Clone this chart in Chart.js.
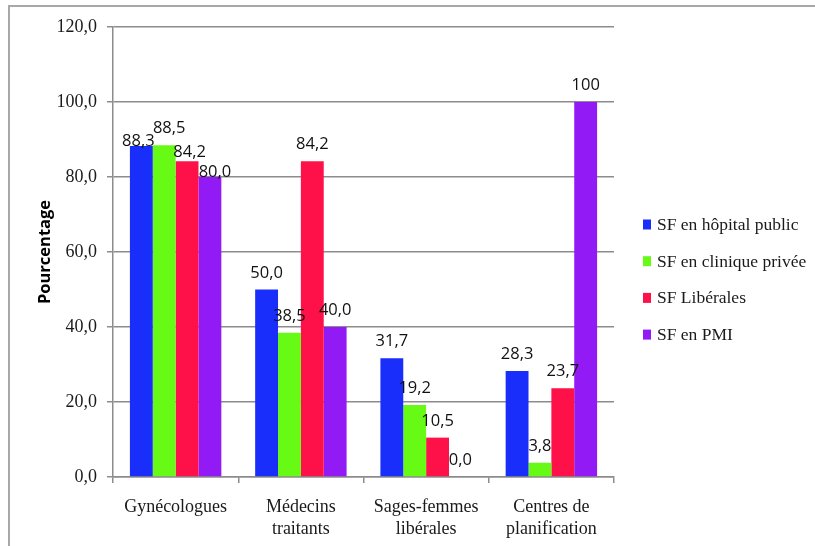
<!DOCTYPE html>
<html lang="fr">
<head>
<meta charset="utf-8">
<title>Pourcentage par type de professionnel</title>
<script src="https://cdn.jsdelivr.net/npm/chart.js@4/dist/chart.umd.min.js"></script>
<style>
  html, body { margin: 0; padding: 0; background: #fff; overflow: hidden; }
  #wrap { position: relative; width: 815px; height: 546px; }
  /* cadre gris autour du graphique (haut et gauche seulement visibles) */
  #frame { position: absolute; left: 8px; top: 5px; width: 900px; height: 600px;
           border-top: 2px solid #a8a8a8; border-left: 2px solid #a8a8a8; }
  #mycanvas { position: absolute; left: 0; top: 0; }
</style>
</head>
<body>
<div id="wrap">
  <div id="frame"></div>
  <canvas id="mycanvas" width="815" height="546"></canvas>
</div>
<script>
// categories on the x axis (multi-line labels)
var categories = [
  'Gynécologues',
  ['Médecins', 'traitants'],
  ['Sages-femmes', 'libérales'],
  ['Centres de', 'planification']
];

// one array per series, in %
var seriesNames = ['SF en hôpital public', 'SF en clinique privée', 'SF Libérales', 'SF en PMI'];
var hopitalPublic   = [88.3, 50.0, 31.7, 28.3];
var cliniquePrivee  = [88.5, 38.5, 19.2, 3.8];
var liberales       = [84.2, 84.2, 10.5, 23.7];
var pmi             = [80.0, 40.0, 0.0, 100];

var yTicks = [0, 20, 40, 60, 80, 100, 120];

var colors = ['#1a2efb', '#66fa14', '#fe1048', '#921bf5'];

var SERIF = '"Liberation Serif", "Times New Roman", serif';

function fr(v) {
  // 100 was shown without decimal in the original table
  if (v === 100) return '100';
  return v.toFixed(1).replace('.', ',');
}

// small manual nudges for the crowded first group (dataset index -> [dx, dy])
var labelNudge = {
  '0-0': [-3, 12],
  '1-0': [5, 0],
  '2-0': [2.5, 8],
  '3-0': [5, 12]
};

var valueLabels = {
  id: 'valueLabels',
  afterDatasetsDraw: function(chart) {
    var ctx = chart.ctx;
    ctx.save();
    ctx.font = '16.5px "Open Sans", sans-serif';
    ctx.fillStyle = '#111';
    ctx.textAlign = 'center';
    ctx.textBaseline = 'alphabetic';
    chart.data.datasets.forEach(function(ds, di) {
      var meta = chart.getDatasetMeta(di);
      meta.data.forEach(function(bar, i) {
        var n = labelNudge[di + '-' + i] || [0, 0];
        ctx.fillText(fr(ds.data[i]), bar.x + n[0], bar.y - 12 + n[1]);
      });
    });
    ctx.restore();
  }
};

// legend drawn on the right, one line per dataset
var sideLegend = {
  id: 'sideLegend',
  afterDraw: function(chart) {
    var ctx = chart.ctx;
    ctx.save();
    ctx.font = '17.5px ' + SERIF;
    ctx.textAlign = 'left';
    ctx.textBaseline = 'middle';
    chart.data.datasets.forEach(function(ds, i) {
      var cy = 224.5 + i * 36.7;
      ctx.fillStyle = ds.backgroundColor;
      ctx.fillRect(643, cy - 5, 8, 10);
      ctx.fillStyle = '#1a1a1a';
      ctx.fillText(ds.label, 657, cy + 1);
    });
    ctx.restore();
  }
};

var allSeries = [hopitalPublic, cliniquePrivee, liberales, pmi];
var datasets = allSeries.map(function(values, i) {
  return {
    label: seriesNames[i],
    data: values,
    backgroundColor: colors[i],
    borderWidth: 0,
    categoryPercentage: 0.73,
    barPercentage: 1.0
  };
});

var gridGray = '#8c8c8c';

var ctx = document.getElementById('mycanvas');
var barGraph = new Chart(ctx, {
  type: 'bar',
  data: { labels: categories, datasets: datasets },
  options: {
    responsive: false,
    animation: false,
    devicePixelRatio: 1,
    layout: { padding: { top: 27, right: 201, bottom: 0, left: 0 } },
    plugins: {
      legend: { display: false },
      tooltip: { enabled: false }
    },
    scales: {
      x: {
        grid: {
          offset: true,
          drawOnChartArea: false,
          drawTicks: true,
          tickLength: 6,
          color: gridGray,
          lineWidth: 1.5
        },
        border: { color: gridGray, width: 1.5 },
        ticks: {
          color: '#1a1a1a',
          padding: 13,
          maxRotation: 0,
          font: { family: SERIF, size: 18, lineHeight: 1.22 }
        },
        afterFit: function(scale) { scale.height = 69; }
      },
      y: {
        min: 0,
        max: 120,
        afterBuildTicks: function(scale) {
          scale.ticks = yTicks.map(function(v) { return { value: v }; });
        },
        grid: {
          color: gridGray,
          lineWidth: 1.5,
          drawTicks: true,
          tickLength: 6
        },
        border: { color: gridGray, width: 1.5 },
        ticks: {
          color: '#1a1a1a',
          padding: 10,
          font: { family: SERIF, size: 18 },
          callback: function(v) { return v.toFixed(1).replace('.', ','); }
        },
        title: {
          display: true,
          text: 'Pourcentage',
          color: '#000',
          padding: { top: 35, bottom: 0 },
          font: { family: '"Open Sans", sans-serif', size: 16.5, weight: 'bold' }
        },
        afterFit: function(scale) { scale.width = 113; }
      }
    }
  },
  plugins: [valueLabels, sideLegend]
});
</script>
</body>
</html>
